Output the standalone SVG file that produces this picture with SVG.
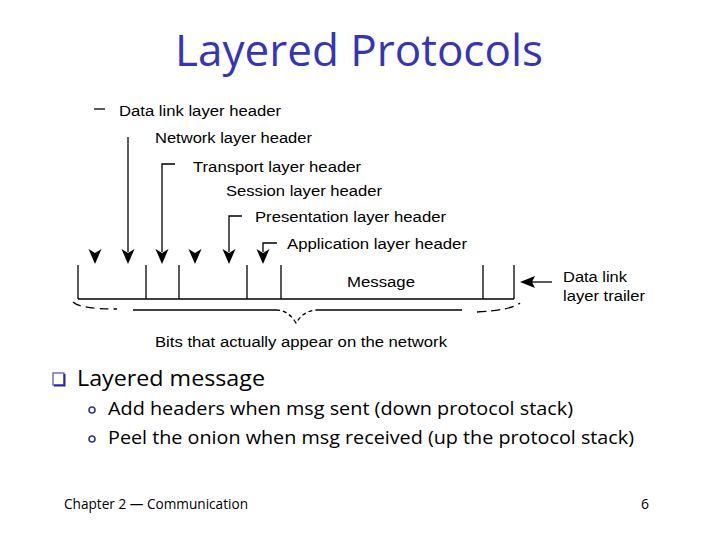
<svg xmlns="http://www.w3.org/2000/svg" width="720" height="540" viewBox="0 0 720 540">
<style>
.lbl{font-family:"Liberation Sans",Arial,sans-serif;font-size:15.5px;fill:#000}
.cs{font-family:"Open Sans","DejaVu Sans",sans-serif;fill:#000}
.ln{stroke:#000;stroke-width:1.3;fill:none}
.ah{fill:#000}
</style>
<defs>
<path id="ahd" d="M-6.5,0 L0,4 L6.5,0 L0,15 Z"/>
</defs>
<rect width="720" height="540" fill="#fff"/>
<text x="359" y="66" text-anchor="middle" font-family="'Open Sans','DejaVu Sans',sans-serif" font-size="44" fill="#3535b8" textLength="368" lengthAdjust="spacingAndGlyphs">Layered Protocols</text>

<g id="labels">
<text class="lbl" x="119" y="116" textLength="162" lengthAdjust="spacingAndGlyphs">Data link layer header</text>
<text class="lbl" x="155" y="143" textLength="157" lengthAdjust="spacingAndGlyphs">Network layer header</text>
<text class="lbl" x="193" y="172" textLength="168" lengthAdjust="spacingAndGlyphs">Transport layer header</text>
<text class="lbl" x="226" y="196" textLength="156" lengthAdjust="spacingAndGlyphs">Session layer header</text>
<text class="lbl" x="255" y="222" textLength="191" lengthAdjust="spacingAndGlyphs">Presentation layer header</text>
<text class="lbl" x="287" y="249" textLength="180" lengthAdjust="spacingAndGlyphs">Application layer header</text>
</g>

<g id="connectors">
<line class="ln" x1="94" y1="109" x2="105" y2="109"/>
<line class="ln" x1="128" y1="137" x2="128" y2="252"/>
<polyline class="ln" points="175,164 162,164 162,252"/>
<polyline class="ln" points="242,216 229,216 229,252"/>
<polyline class="ln" points="277,243 263,243 263,252"/>
<use href="#ahd" x="95" y="249" class="ah"/>
<use href="#ahd" x="128" y="249" class="ah"/>
<use href="#ahd" x="162" y="249" class="ah"/>
<use href="#ahd" x="195" y="249" class="ah"/>
<use href="#ahd" x="229" y="249" class="ah"/>
<use href="#ahd" x="263" y="249" class="ah"/>
<line class="ln" x1="532" y1="282" x2="552" y2="282"/>
<path class="ah" d="M520,282 L535,276 L532,282 L535,288 Z"/>
</g>

<g id="packet">
<line class="ln" x1="78" y1="265" x2="78" y2="299"/>
<line class="ln" x1="146" y1="265" x2="146" y2="299"/>
<line class="ln" x1="179" y1="265" x2="179" y2="299"/>
<line class="ln" x1="247" y1="265" x2="247" y2="299"/>
<line class="ln" x1="281" y1="265" x2="281" y2="299"/>
<line class="ln" x1="483" y1="265" x2="483" y2="299"/>
<line class="ln" x1="514" y1="265" x2="514" y2="299"/>
<line class="ln" x1="78" y1="299" x2="514" y2="299"/>
<text class="lbl" x="347" y="287" textLength="68" lengthAdjust="spacingAndGlyphs">Message</text>
<text class="lbl" x="563" y="282" textLength="64" lengthAdjust="spacingAndGlyphs">Data link</text>
<text class="lbl" x="563" y="301" textLength="82" lengthAdjust="spacingAndGlyphs">layer trailer</text>
</g>

<g id="brace">
<path class="ln" d="M73,302 Q80,309 117,309" stroke-dasharray="9,5"/>
<line class="ln" x1="133" y1="310" x2="276" y2="310"/>
<path class="ln" d="M276,310 Q288,310 296,323 Q304,310 318,310" stroke-dasharray="4,3"/>
<line class="ln" x1="318" y1="310" x2="462" y2="310"/>
<path class="ln" d="M477,312 Q512,310 520,303" stroke-dasharray="9,5"/>
<text class="lbl" x="155" y="347" textLength="292" lengthAdjust="spacingAndGlyphs">Bits that actually appear on the network</text>
</g>

<g id="bullets">
<rect x="53" y="373" width="11" height="12" fill="#fff" stroke="#5a5ad0" stroke-width="1.3"/>
<path d="M54,385.5 L64.5,385.5 L64.5,374" fill="none" stroke="#2a2a90" stroke-width="2"/>
<text class="cs" x="77" y="386" font-size="22" textLength="188" lengthAdjust="spacingAndGlyphs">Layered message</text>
<circle cx="92" cy="410" r="3" fill="none" stroke="#333399" stroke-width="1.6"/>
<text class="cs" x="108" y="415" font-size="18" textLength="465" lengthAdjust="spacingAndGlyphs">Add headers when msg sent (down protocol stack)</text>
<circle cx="92" cy="439" r="3" fill="none" stroke="#333399" stroke-width="1.6"/>
<text class="cs" x="108" y="444" font-size="18" textLength="526" lengthAdjust="spacingAndGlyphs">Peel the onion when msg received (up the protocol stack)</text>
</g>

<g id="footer">
<text class="cs" x="64" y="509" font-size="14" textLength="184" lengthAdjust="spacingAndGlyphs">Chapter 2 — Communication</text>
<text class="cs" x="645" y="509" font-size="14" text-anchor="middle">6</text>
</g>
</svg>
